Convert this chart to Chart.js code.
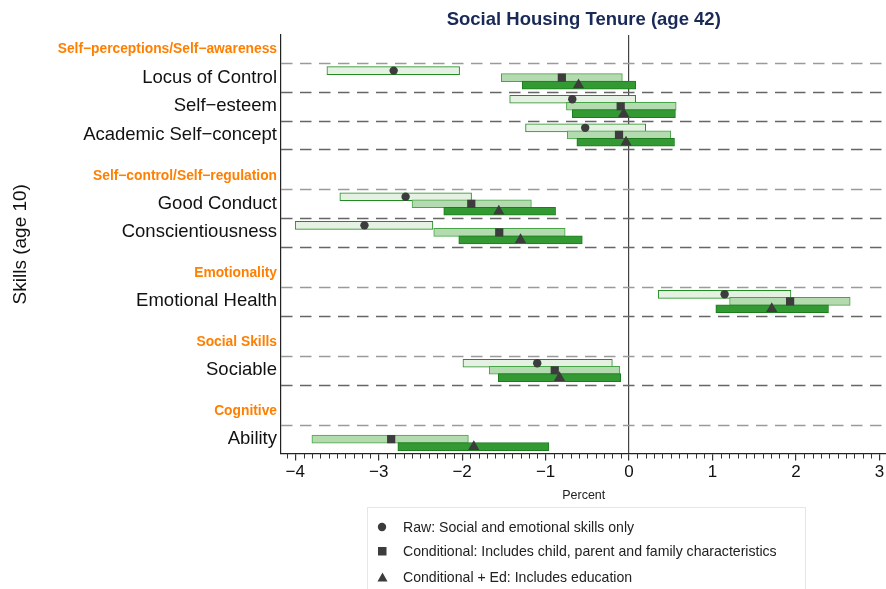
<!DOCTYPE html>
<html>
<head>
<meta charset="utf-8">
<script src="https://cdn.jsdelivr.net/npm/chart.js@4.4.1/dist/chart.umd.min.js"></script>
<style>
  body { margin: 0; background: #fff; }
  #wrap { position: relative; width: 886px; height: 589px; overflow: hidden; }
  #legend {
    position: absolute; left: 367px; top: 507px; width: 439px; height: 100px;
    border: 1px solid #dfe8ec; box-sizing: border-box;
    font-family: "Liberation Sans", Arial, sans-serif; font-size: 14.1px; color: #222;
  }
  .item { position: absolute; left: 0; height: 16px; line-height: 16px; }
  .item svg { position: absolute; left: 9px; top: 3px; }
  .item span { position: absolute; left: 35px; white-space: nowrap; }
</style>
</head>
<body>
<div id="wrap">
  <canvas id="chart" width="893" height="589"></canvas>
  <div id="legend">
    <div class="item" style="top:11px"><svg width="10" height="10"><circle cx="5" cy="5" r="4.2" fill="#3c3c3c"/></svg><span>Raw: Social and emotional skills only</span></div>
    <div class="item" style="top:35px"><svg width="10" height="10"><rect x="1" y="1" width="8.5" height="8.5" fill="#3c3c3c"/></svg><span>Conditional: Includes child, parent and family characteristics</span></div>
    <div class="item" style="top:61px"><svg width="11" height="10"><polygon points="5.5,0.5 10.5,9.5 0.5,9.5" fill="#3c3c3c"/></svg><span>Conditional + Ed: Includes education</span></div>
  </div>
</div>
<script>
// groups of skills (age 10) and how many skills each has
var groups = ["Self−perceptions/Self−awareness", "Self−control/Self−regulation", "Emotionality", "Social Skills", "Cognitive"];
var groupSizes = [3, 2, 1, 1, 1];
var skills = ["Locus of Control", "Self−esteem", "Academic Self−concept", "Good Conduct", "Conscientiousness", "Emotional Health", "Sociable", "Ability"];

// Raw: social and emotional skills only
var rawLow  = [-3.62, -1.43, -1.24, -3.465, -4.00, 0.35, -1.99, null];
var rawHigh = [-2.03,  0.08,  0.20, -1.887, -2.35, 1.94, -0.20, null];
var rawEst  = [-2.82, -0.68, -0.525, -2.677, -3.17, 1.145, -1.10, null];
// Conditional: child, parent and family characteristics
var condLow  = [-1.53, -0.75, -0.74, -2.60, -2.34, 1.205, -1.675, -3.80];
var condHigh = [-0.08, 0.565, 0.50, -1.17, -0.765, 2.65, -0.11, -1.925];
var condEst  = [-0.805, -0.10, -0.12, -1.89, -1.555, 1.93, -0.89, -2.85];
// Conditional + Ed
var edLow  = [-1.28, -0.68, -0.625, -2.22, -2.04, 1.04, -1.566, -2.77];
var edHigh = [0.08, 0.556, 0.545, -0.88, -0.56, 2.39, -0.10, -0.96];
var edEst  = [-0.605, -0.064, -0.036, -1.56, -1.30, 1.71, -0.833, -1.86];

var xTicks = [-4, -3, -2, -1, 0, 1, 2, 3];

// y layout (row units)
var headerGap = 1.41;
var yTicks = [];       // {value, label, header}
var rowPos = [];
var lightLines = [];
var darkLines = [];
var pos = 0, s = 0;
for (var g = 0; g < groups.length; g++) {
  yTicks.push({ value: pos + headerGap - 0.48, label: groups[g], header: true });
  pos += headerGap;
  lightLines.push(pos);
  for (var k = 0; k < groupSizes[g]; k++) {
    rowPos.push(pos + 0.5);
    yTicks.push({ value: pos + 0.5, label: skills[s], header: false });
    pos += 1;
    s++;
    if (g < groups.length - 1 || k < groupSizes[g] - 1) darkLines.push(pos);
  }
}
var yMin = headerGap - 0.99, yMax = pos;

function isHeader(i) { return !!(yTicks[i] && yTicks[i].header); }

function bars(lo, hi, off) {
  var out = [];
  for (var i = 0; i < skills.length; i++) {
    if (lo[i] === null) continue;
    out.push({ x: [lo[i], hi[i]], y: rowPos[i] + off });
  }
  return out;
}
function points(est, off) {
  var out = [];
  for (var i = 0; i < skills.length; i++) {
    if (est[i] === null) continue;
    out.push({ x: est[i], y: rowPos[i] + off });
  }
  return out;
}

var minorTicks = {
  id: "minorTicks",
  beforeDatasetsDraw: function (chart) {
    var ctx = chart.ctx, ca = chart.chartArea, y = chart.scales.y;
    ctx.save();
    ctx.lineWidth = 1.3;
    ctx.setLineDash([11.5, 7.5]);
    lightLines.forEach(function (v) {
      var py = Math.round(y.getPixelForValue(v)) + 0.5;
      ctx.strokeStyle = "#9a9a9a";
      ctx.beginPath(); ctx.moveTo(ca.left, py); ctx.lineTo(ca.right, py); ctx.stroke();
    });
    darkLines.forEach(function (v) {
      var py = Math.round(y.getPixelForValue(v)) + 0.5;
      ctx.strokeStyle = "#666";
      ctx.beginPath(); ctx.moveTo(ca.left, py); ctx.lineTo(ca.right, py); ctx.stroke();
    });
    ctx.restore();
  },
  afterDraw: function (chart) {
    var ctx = chart.ctx, ca = chart.chartArea, x = chart.scales.x;
    ctx.save();
    ctx.strokeStyle = "#333";
    ctx.lineWidth = 1;
    for (var k = Math.ceil(x.min * 10); k <= Math.floor(x.max * 10); k++) {
      if (k % 10 === 0) continue;
      var px = Math.round(x.getPixelForValue(k / 10)) + 0.5;
      ctx.beginPath(); ctx.moveTo(px, ca.bottom); ctx.lineTo(px, ca.bottom + 5); ctx.stroke();
    }
    ctx.restore();
  }
};

Chart.defaults.font.family = '"Liberation Sans", Arial, sans-serif';

new Chart(document.getElementById("chart").getContext("2d"), {
  type: "bar",
  data: {
    datasets: [
      { type: "scatter", data: points(rawEst, -0.245), pointStyle: "circle", pointRadius: 4.2, backgroundColor: "#3c3c3c", borderWidth: 0, order: 0 },
      { type: "scatter", data: points(condEst, 0), pointStyle: "rect", pointRadius: 5.8, backgroundColor: "#3c3c3c", borderWidth: 0, order: 0 },
      { type: "scatter", data: points(edEst, 0.26), pointStyle: "triangle", pointRadius: 6.5, backgroundColor: "#3c3c3c", borderWidth: 0, order: 0 },
      { data: bars(rawLow, rawHigh, -0.245), backgroundColor: "rgb(229,242,227)", borderColor: "rgb(34,139,34)", borderWidth: 1, borderSkipped: false, barThickness: 8, grouped: false, order: 3 },
      { data: bars(condLow, condHigh, 0), backgroundColor: "rgb(180,218,175)", borderColor: "rgb(70,165,70)", borderWidth: 1, borderSkipped: false, barThickness: 8, grouped: false, order: 2 },
      { data: bars(edLow, edHigh, 0.26), backgroundColor: "rgb(51,153,51)", borderColor: "rgb(28,125,28)", borderWidth: 1, borderSkipped: false, barThickness: 8, grouped: false, order: 1 }
    ]
  },
  plugins: [minorTicks],
  options: {
    indexAxis: "y",
    responsive: false,
    animation: false,
    layout: { padding: { left: 0, right: 0, top: 0, bottom: 86 } },
    scales: {
      x: {
        type: "linear",
        min: -4.17,
        max: 3.085,
        afterBuildTicks: function (sc) { sc.ticks = xTicks.map(function (v) { return { value: v }; }); },
        afterFit: function (sc) { sc.height = 49.5; },
        ticks: {
          padding: 2,
          maxRotation: 0,
          autoSkip: false,
          color: "#111",
          font: { size: 17 },
          callback: function (v) { return String(v).replace("-", "−"); }
        },
        grid: {
          color: function (c) { return c.tick && c.tick.value === 0 ? "#444" : "rgba(0,0,0,0)"; },
          lineWidth: 1.2,
          tickColor: "#333",
          tickLength: 7,
          drawTicks: true
        },
        border: { display: true, color: "#222", width: 1.2 },
        title: { display: true, text: "Percent", color: "#222", font: { size: 12.5 }, padding: { top: 0, bottom: 0 } }
      },
      y: {
        type: "linear",
        reverse: true,
        offset: false,
        min: yMin,
        max: yMax,
        afterBuildTicks: function (sc) { sc.ticks = yTicks.map(function (t) { return { value: t.value }; }); },
        afterFit: function (sc) { sc.width = 281; },
        ticks: {
          padding: 4,
          autoSkip: false,
          callback: function (v, i) { return yTicks[i] ? yTicks[i].label : ""; },
          color: function (c) { return isHeader(c.index) ? "#ff7f00" : "#111"; },
          font: function (c) { return isHeader(c.index) ? { size: 13.8, weight: "bold" } : { size: 18.5 }; }
        },
        grid: { display: false, drawTicks: false },
        border: { display: true, color: "#222", width: 1.2 },
        title: { display: true, text: "Skills (age 10)", color: "#111", font: { size: 19 }, padding: { top: 9, bottom: 0 } }
      }
    },
    plugins: {
      legend: { display: false },
      tooltip: { enabled: false },
      title: {
        display: true,
        fullSize: false,
        text: "Social Housing Tenure (age 42)",
        color: "#1a2a57",
        font: { size: 18.5, weight: "bold" },
        padding: { top: 8.9, bottom: 3.9 }
      }
    }
  }
});
</script>
</body>
</html>
